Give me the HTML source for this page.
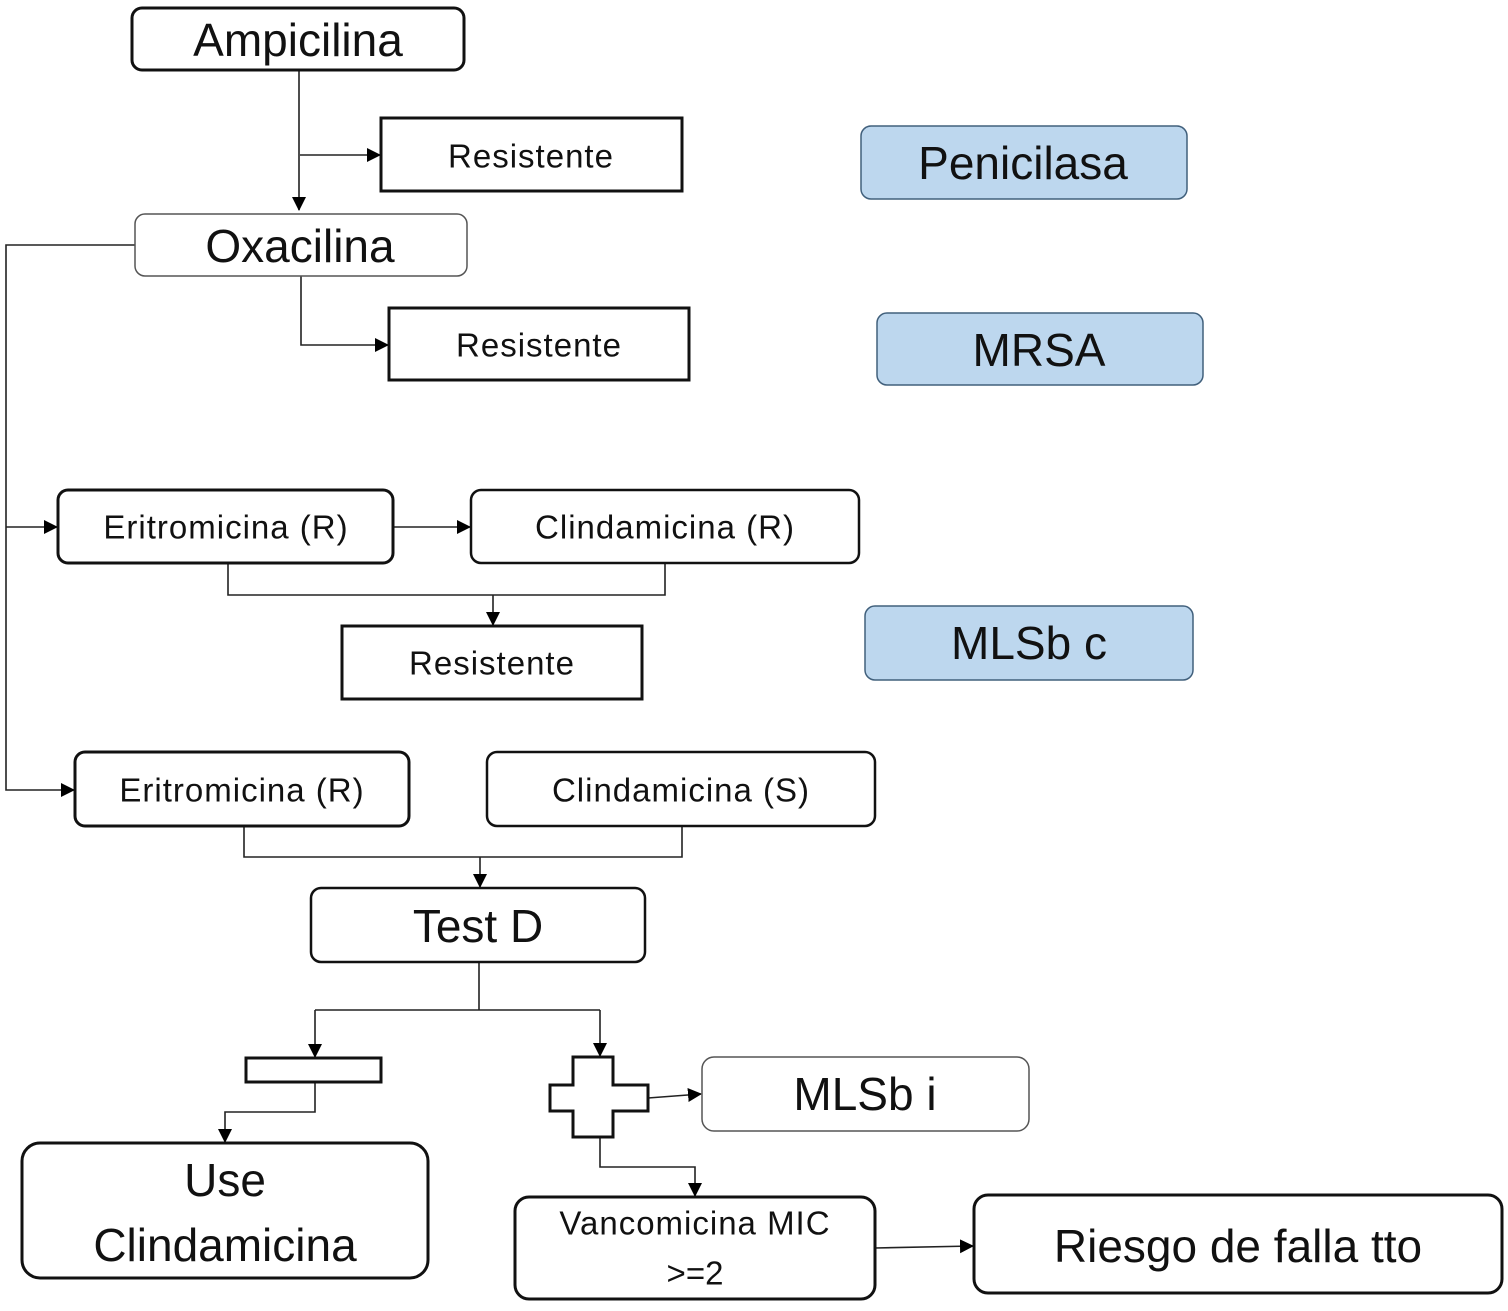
<!DOCTYPE html>
<html><head><meta charset="utf-8"><style>
html,body{margin:0;padding:0;background:#fff}
text{font-family:"Liberation Sans",sans-serif;fill:#111;text-anchor:middle;dominant-baseline:central}
.s{letter-spacing:1px}
</style></head><body>
<svg width="1508" height="1306" viewBox="0 0 1508 1306" xmlns="http://www.w3.org/2000/svg">
<defs>
<marker id="b" markerWidth="14" markerHeight="14" refX="13" refY="7" orient="auto" markerUnits="userSpaceOnUse"><path d="M0,0 L14,7 L0,14 Z" fill="#000"/></marker>
</defs>
<g fill="none" stroke="#222" stroke-width="1.6">
<path d="M299,70 V210" marker-end="url(#b)"/>
<path d="M300,155 H380" marker-end="url(#b)"/>
<path d="M135,245 H6 V790 H74" marker-end="url(#b)"/>
<path d="M6,527 H57" marker-end="url(#b)"/>
<path d="M301,276 V345 H388" marker-end="url(#b)"/>
<path d="M393,527 H470" marker-end="url(#b)"/>
<path d="M228,563 V595 H665 V563"/>
<path d="M493,595 V625" marker-end="url(#b)"/>
<path d="M244,826 V857 H682 V826"/>
<path d="M480,857 V887" marker-end="url(#b)"/>
<path d="M479,962 V1010"/>
<path d="M315,1010 H600"/>
<path d="M315,1010 V1057" marker-end="url(#b)"/>
<path d="M600,1010 V1056" marker-end="url(#b)"/>
<path d="M315,1082 V1112 H225 V1142" marker-end="url(#b)"/>
<path d="M648,1098 L701,1094" marker-end="url(#b)"/>
<path d="M600,1137 V1167 H695 V1196" marker-end="url(#b)"/>
<path d="M875,1248 L973,1246" marker-end="url(#b)"/>
</g>
<g stroke="#111" fill="#fff">
<rect x="132" y="8" width="332" height="62" rx="10" stroke-width="3"/>
<rect x="381" y="118" width="301" height="73" stroke-width="3"/>
<rect x="861" y="126" width="326" height="73" rx="10" stroke-width="1.5" fill="#bdd7ee" stroke="#41607c"/>
<rect x="135" y="214" width="332" height="62" rx="10" stroke-width="1.5" stroke="#555"/>
<rect x="389" y="308" width="300" height="72" stroke-width="3"/>
<rect x="877" y="313" width="326" height="72" rx="10" stroke-width="1.5" fill="#bdd7ee" stroke="#41607c"/>
<rect x="58" y="490" width="335" height="73" rx="10" stroke-width="3"/>
<rect x="471" y="490" width="388" height="73" rx="10" stroke-width="2.5"/>
<rect x="342" y="626" width="300" height="73" stroke-width="3"/>
<rect x="865" y="606" width="328" height="74" rx="10" stroke-width="1.5" fill="#bdd7ee" stroke="#41607c"/>
<rect x="75" y="752" width="334" height="74" rx="10" stroke-width="3"/>
<rect x="487" y="752" width="388" height="74" rx="10" stroke-width="2.5"/>
<rect x="311" y="888" width="334" height="74" rx="10" stroke-width="2.5"/>
<rect x="246" y="1058" width="135" height="24" stroke-width="3"/>
<path d="M573,1057 H613 V1085 H648 V1111 H613 V1137 H573 V1111 H550 V1085 H573 Z" stroke-width="3"/>
<rect x="702" y="1057" width="327" height="74" rx="12" stroke-width="1.5" stroke="#555"/>
<rect x="22" y="1143" width="406" height="135" rx="18" stroke-width="3"/>
<rect x="515" y="1197" width="360" height="102" rx="14" stroke-width="3"/>
<rect x="974" y="1195" width="528" height="98" rx="14" stroke-width="3"/>
</g>
<text x="298" y="40" font-size="46">Ampicilina</text>
<text class="s" x="531" y="156" font-size="33">Resistente</text>
<text x="1023" y="163" font-size="46">Penicilasa</text>
<text x="300" y="246" font-size="46">Oxacilina</text>
<text class="s" x="539" y="345" font-size="33">Resistente</text>
<text x="1039" y="350" font-size="46">MRSA</text>
<text class="s" x="226" y="527" font-size="33">Eritromicina (R)</text>
<text class="s" x="665" y="527" font-size="33">Clindamicina (R)</text>
<text class="s" x="492" y="663" font-size="33">Resistente</text>
<text x="1029" y="643" font-size="46">MLSb c</text>
<text class="s" x="242" y="790" font-size="33">Eritromicina (R)</text>
<text class="s" x="681" y="790" font-size="33">Clindamicina (S)</text>
<text x="478" y="926" font-size="46">Test D</text>
<text x="865" y="1094" font-size="46">MLSb i</text>
<text x="225" y="1180" font-size="46">Use</text>
<text x="225" y="1245" font-size="46">Clindamicina</text>
<text class="s" x="695" y="1223" font-size="33">Vancomicina MIC</text>
<text x="695" y="1273" font-size="33">&gt;=2</text>
<text x="1238" y="1246" font-size="46">Riesgo de falla tto</text>
</svg>
</body></html>
